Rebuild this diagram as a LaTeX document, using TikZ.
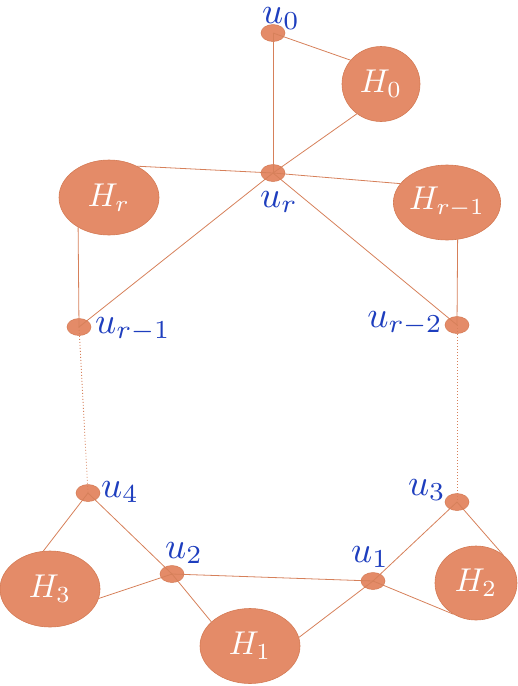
\documentclass[tikz,border=0pt]{standalone}
\usepackage{graphicx}
\usetikzlibrary{shapes.geometric}
\pgfdeclarelayer{back}
\pgfsetlayers{back,main}
\definecolor{nodefill}{RGB}{228,139,104}
\definecolor{nodeline}{RGB}{212,122,84}
\definecolor{edgecol}{RGB}{214,128,90}
\definecolor{lblblue}{RGB}{30,62,190}
\newcommand{\bigtxt}[1]{\scalebox{3.3}{$#1$}}
\newcommand{\lbltxt}[1]{\scalebox{3.7}{$#1$}}
\begin{document}
\begin{tikzpicture}[x=1pt,y=-1pt,
  vtx/.style={ellipse,fill=nodefill,draw=nodeline,line width=0.5pt,minimum width=24pt,minimum height=17pt,inner sep=0pt},
  blob/.style={ellipse,fill=nodefill,draw=nodeline,line width=0.6pt,inner sep=0pt,text=white},
  lbl/.style={text=lblblue,anchor=base west,inner sep=0pt},
  conn/.style={draw=edgecol,line width=0.8pt},
  dotconn/.style={draw=edgecol,line width=0.9pt,dash pattern=on 0.9pt off 2.1pt}]
\useasboundingbox (0,0) rectangle (518,686);
% big ellipses
\node[blob,minimum width=78pt,minimum height=75pt] (H0) at (381,84) {\bigtxt{H_0}};
\node[blob,minimum width=100pt,minimum height=75pt] (Hr) at (109,197.5) {\bigtxt{H_r}};
\node[blob,minimum width=100pt,minimum height=75pt] (Hr1) at (447,202.5) {\bigtxt{H_{r-1}}};
\node[blob,minimum width=100pt,minimum height=76pt] (H3) at (50,589) {\bigtxt{H_3}};
\node[blob,minimum width=100pt,minimum height=75pt] (H1) at (250,646) {\bigtxt{H_1}};
\node[blob,minimum width=82pt,minimum height=74pt] (H2) at (476,583) {\bigtxt{H_2}};
\begin{pgfonlayer}{back}
\node[vtx] (u0) at (273,33) {};
\node[vtx] (ur) at (273,173) {};
\node[vtx] (ur1) at (79,327) {};
\node[vtx] (ur2) at (457,325) {};
\node[vtx] (u4) at (88,493) {};
\node[vtx] (u3) at (457,502) {};
\node[vtx] (u2) at (172,574) {};
\node[vtx] (u1) at (373,581) {};
% edges
\draw[conn] (u0.center) -- (H0.142.5);
\draw[conn] (u0.center) -- (ur.center);
\draw[conn] (ur.center) -- (H0.231.6);
\draw[conn] (ur.center) -- (Hr.48.6);
\draw[conn] (ur.center) -- (Hr1.158.7);
\draw[conn] (ur.center) -- (ur1.center);
\draw[conn] (ur.center) -- (ur2.center);
\draw[conn] (ur1.center) -- (Hr.224.5);
\draw[conn] (ur2.center) -- (Hr1.286.7);
\draw[dotconn] (ur1.center) -- (u4.center);
\draw[dotconn] (ur2.center) -- (u3.center);
\draw[conn] (u4.center) -- (H3.100.7);
\draw[conn] (u4.center) -- (u2.center);
\draw[conn] (u2.center) -- (H3.349.8);
\draw[conn] (u2.center) -- (H1.148.4);
\draw[conn] (u2.center) -- (u1.center);
\draw[conn] (u1.center) -- (H1.10.4);
\draw[conn] (u1.center) -- (u3.center);
\draw[conn] (u1.center) -- (H2.234.3);
\draw[conn] (u3.center) -- (H2.46);
\end{pgfonlayer}
% labels
\node[lbl] (l0) at (262,23.5) {\lbltxt{u_0}};
\node[lbl] (lr) at (260,207) {\lbltxt{u_r}};
\node[lbl] (lr1) at (95,333) {\lbltxt{u_{r-1}}};
\node[lbl,anchor=base east] (lr2) at (443,327) {\lbltxt{u_{r-2}}};
\node[lbl] (l4) at (101,497) {\lbltxt{u_4}};
\node[lbl] (l2) at (165,558) {\lbltxt{u_2}};
\node[lbl] (l1) at (351,562) {\lbltxt{u_1}};
\node[lbl,anchor=base east] (l3) at (446,495) {\lbltxt{u_3}};
\end{tikzpicture}
\end{document}
